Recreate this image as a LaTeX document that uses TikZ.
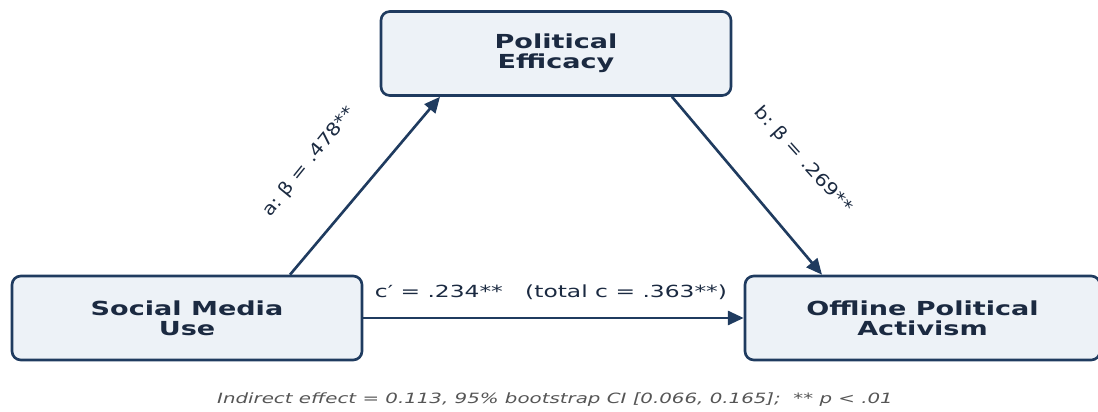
\documentclass[tikz,border=0pt]{standalone}
\usepackage{fontspec}
\setmainfont{DejaVu Sans}[FakeStretch=1.4]
\newfontfamily\slantlabel{DejaVu Sans}[FakeStretch=1.17]
\usepackage{tikz}
\usetikzlibrary{arrows.meta}
\definecolor{navy}{HTML}{1F3B5F}
\definecolor{boxfill}{HTML}{EDF2F7}
\definecolor{ink}{HTML}{1B2A41}
\definecolor{notegray}{HTML}{555555}
\tikzset{varbox/.style={draw=navy,fill=boxfill,line width=1.5pt,rounded corners=5pt,
   minimum width=7cm,minimum height=1.68cm,align=center,text=ink,
   font=\fontsize{11}{11.4}\selectfont\bfseries},
 path/.style={draw=navy,line width=1.5pt,-{Triangle[length=9pt,width=8pt]}},
 coef/.style={text=ink,font=\fontsize{9.5}{10}\selectfont},
 slantcoef/.style={text=ink,font=\slantlabel\fontsize{10}{11}\selectfont},
 }

\begin{document}
\begin{tikzpicture}
        \useasboundingbox (0,0) rectangle (21.96,8.22);
        \node[varbox] (pe) at (11.12, 7.15) {Political\\Efficacy};
        \node[varbox] (sm) at (3.74, 1.86) {Social Media\\Use};
        \node[varbox, minimum width=7.1cm] (oa) at (18.45, 1.86) {Offline Political\\Activism};
        \draw[path] ([xshift=2.06cm]sm.north) -- ([xshift=-2.32cm]pe.south);
        \draw[path] ([xshift=2.32cm]pe.south) -- ([xshift=-2.01cm]oa.north);
        \draw[path] (sm.east) -- (oa.west);
        \node[slantcoef, rotate=51] (lbla) at (6.18, 4.98) {a:\ β = .478**};
        \node[slantcoef, rotate=-48] (lblb) at (16.06, 5.02) {b:\ β = .269**};
        \node[coef] (lblc) at (11.02, 2.37) {c′ = .234**\ \ \ (total c = .363**)};
        \node[text=notegray, font=\fontsize{8.05}{9}\selectfont\itshape] (note) at (11.1, 0.22)
            {Indirect effect = 0.113, 95\% bootstrap CI [0.066, 0.165];\ \ ** p < .01};
    \end{tikzpicture}
\end{document}
